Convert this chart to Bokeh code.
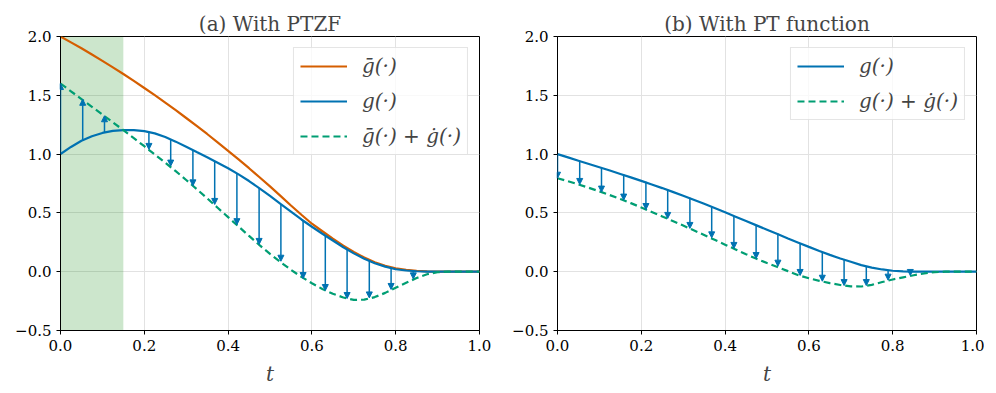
from bokeh.plotting import figure
from bokeh.layouts import row
from bokeh.models import (Range1d, FixedTicker, CustomJSTickFormatter, Arrow,
                          NormalHead, ColumnDataSource, Legend, LegendItem)
from bokeh.embed import file_html
from bokeh.resources import INLINE

# ---------------- data ----------------
t = [0.000, 0.025, 0.050, 0.075, 0.100, 0.125, 0.150, 0.175, 0.200, 0.225,
     0.250, 0.275, 0.300, 0.325, 0.350, 0.375, 0.400, 0.425, 0.450, 0.475,
     0.500, 0.525, 0.550, 0.575, 0.600, 0.625, 0.650, 0.675, 0.700, 0.725,
     0.750, 0.775, 0.800, 0.825, 0.850, 0.875, 0.900, 0.925, 0.950, 0.975, 1.000]

# panel (a) With PTZF
gbar_a = [2.000, 1.950, 1.900, 1.847, 1.793, 1.738, 1.681, 1.622, 1.562, 1.501,
          1.438, 1.373, 1.307, 1.240, 1.171, 1.100, 1.028, 0.955, 0.880, 0.803,
          0.725, 0.645, 0.563, 0.484, 0.408, 0.344, 0.281, 0.221, 0.167, 0.120,
          0.081, 0.050, 0.028, 0.016, 0.008, 0.003, 0.000, 0.000, 0.000, 0.000, 0.000]
g_a = [1.000, 1.061, 1.113, 1.152, 1.180, 1.197, 1.204, 1.204, 1.195, 1.176,
       1.146, 1.106, 1.062, 1.017, 0.973, 0.927, 0.880, 0.828, 0.771, 0.709,
       0.645, 0.577, 0.511, 0.444, 0.382, 0.323, 0.265, 0.208, 0.156, 0.110,
       0.072, 0.043, 0.021, 0.010, 0.004, 0.001, 0.000, 0.000, 0.000, 0.000, 0.000]
gsum_a = [1.600, 1.534, 1.468, 1.402, 1.336, 1.270, 1.204, 1.136, 1.067, 0.997,
          0.927, 0.855, 0.780, 0.703, 0.624, 0.544, 0.464, 0.384, 0.304, 0.226,
          0.151, 0.082, 0.016, -0.044, -0.098, -0.147, -0.188, -0.219, -0.240, -0.238,
          -0.216, -0.180, -0.136, -0.094, -0.054, -0.022, -0.004, 0.000, 0.000, 0.000, 0.000]

# panel (b) With PT function
g_b = [1.000, 0.972, 0.944, 0.916, 0.888, 0.860, 0.831, 0.802, 0.772, 0.742,
       0.711, 0.679, 0.646, 0.612, 0.577, 0.541, 0.505, 0.468, 0.431, 0.394,
       0.357, 0.320, 0.283, 0.247, 0.211, 0.176, 0.143, 0.112, 0.084, 0.056,
       0.035, 0.019, 0.008, 0.003, 0.001, 0.000, 0.000, 0.000, 0.000, 0.000, 0.000]
gsum_b = [0.795, 0.769, 0.742, 0.713, 0.683, 0.651, 0.618, 0.583, 0.546, 0.508,
          0.470, 0.431, 0.392, 0.352, 0.312, 0.271, 0.230, 0.189, 0.148, 0.110,
          0.074, 0.040, 0.005, -0.030, -0.056, -0.078, -0.097, -0.113, -0.125, -0.126,
          -0.112, -0.088, -0.066, -0.048, -0.030, -0.015, -0.004, 0.000, 0.000, 0.000, 0.000]

# arrows (start on g, end on the dashed curve)
t_arrow = [0.000, 0.053, 0.105, 0.158, 0.211, 0.263, 0.316, 0.368, 0.421, 0.474,
           0.526, 0.579, 0.632, 0.684, 0.737, 0.789, 0.842, 0.895, 0.947, 1.000]
arrow_a_from = [1.000, 1.117, 1.183, 1.204, 1.188, 1.125, 1.035, 0.940, 0.839, 0.712,
                0.577, 0.436, 0.308, 0.189, 0.089, 0.027, 0.005, 0.000, 0.000, 0.000]
arrow_a_to = [1.600, 1.466, 1.326, 1.185, 1.040, 0.898, 0.730, 0.572, 0.400, 0.232,
              0.089, -0.058, -0.160, -0.228, -0.223, -0.151, -0.061, -0.005, 0.000, 0.000]
arrow_b_from = [1.000, 0.940, 0.883, 0.827, 0.764, 0.696, 0.628, 0.549, 0.472, 0.396,
                0.325, 0.245, 0.169, 0.100, 0.044, 0.013, 0.001, 0.000, 0.000, 0.000]
arrow_b_to = [0.795, 0.742, 0.677, 0.609, 0.529, 0.453, 0.368, 0.288, 0.198, 0.112,
              0.047, -0.032, -0.081, -0.118, -0.118, -0.072, -0.032, -0.003, 0.000, 0.000]

# shaded interval in (a)
shade_left = [0.0]
shade_right = [0.15]

x_ticks = [0.0, 0.2, 0.4, 0.6, 0.8, 1.0]
y_ticks = [-0.5, 0.0, 0.5, 1.0, 1.5, 2.0]

titles = ["(a) With PTZF", "(b) With PT function"]
labels_a = ["g\u0304(\u00b7)", "g(\u00b7)", "g\u0304(\u00b7) + \u0121(\u00b7)"]
labels_b = ["g(\u00b7)", "g(\u00b7) + \u0121(\u00b7)"]

# ---------------- style ----------------
ORANGE = "#D55E00"
BLUE = "#0072B2"
GREEN = "#009E73"
FONT = "DejaVu Serif"


def make_fig(title, left, right):
    p = figure(frame_width=419, frame_height=294,
               x_range=Range1d(0, 1), y_range=Range1d(-0.5, 2.0),
               output_backend="svg", toolbar_location=None,
               min_border_left=left, min_border_right=right,
               min_border_top=36, min_border_bottom=60)
    p.title.text = title
    p.title.align = "center"
    p.title.text_font = FONT
    p.title.text_font_size = "20px"
    p.title.text_font_style = "normal"
    p.title.standoff = 1
    p.title.offset = 0
    fmt = CustomJSTickFormatter(code="return (tick < 0 ? '\u2212' : '') + Math.abs(tick).toFixed(1);")
    for ax, ticks in ((p.xaxis[0], x_ticks), (p.yaxis[0], y_ticks)):
        ax.ticker = FixedTicker(ticks=ticks)
        ax.formatter = fmt
        ax.minor_tick_line_color = None
        ax.major_tick_in = 0
        ax.major_tick_out = 4
        ax.major_label_text_font = FONT
        ax.major_label_text_font_size = "15px"
        ax.major_label_text_color = "black"
        ax.axis_line_color = "black"
        ax.major_tick_line_color = "black"
        ax.major_label_standoff = 5
    p.xaxis.axis_label = "t"
    p.xaxis.axis_label_text_font = FONT
    p.xaxis.axis_label_text_font_style = "italic"
    p.xaxis.axis_label_text_font_size = "20px"
    p.xaxis.axis_label_standoff = 8
    p.xgrid.ticker = FixedTicker(ticks=x_ticks)
    p.ygrid.ticker = FixedTicker(ticks=y_ticks)
    p.grid.grid_line_color = "#e2e2e2"
    p.grid.grid_line_width = 1
    p.outline_line_color = "black"
    p.outline_line_width = 1
    p.outline_line_alpha = 1
    p.background_fill_color = "white"
    p.border_fill_color = "white"
    return p


def add_arrows(p, y_from, y_to):
    xs, y0, y1 = [], [], []
    for x, a, b in zip(t_arrow, y_from, y_to):
        if abs(b - a) >= 0.025:
            xs.append(x)
            y0.append(a)
            y1.append(b)
    src = ColumnDataSource(dict(x=xs, y0=y0, y1=y1))
    p.add_layout(Arrow(end=NormalHead(size=6, fill_color=BLUE, line_color=BLUE, line_width=1),
                       x_start="x", y_start="y0", x_end="x", y_end="y1", source=src,
                       line_color=BLUE, line_width=1.5))


def style_legend(lg):
    lg.location = "top_right"
    lg.label_text_font = FONT
    lg.label_text_font_size = "20px"
    lg.label_text_font_style = "italic"
    lg.glyph_width = 47
    lg.glyph_height = 20
    lg.label_height = 20
    lg.label_standoff = 15
    lg.spacing = 11
    lg.padding = 6
    lg.margin = 11
    lg.border_line_color = "#cccccc"
    lg.border_line_width = 1
    lg.background_fill_color = "white"
    lg.background_fill_alpha = 0.8


# ---------------- panel (a) ----------------
pa = make_fig(titles[0], 60, 24)
pa.quad(left=shade_left, right=shade_right, bottom=[-0.5], top=[2.0],
        fill_color="green", fill_alpha=0.2, line_color=None)
ra1 = pa.line(t, gbar_a, line_color=ORANGE, line_width=2.2)
ra2 = pa.line(t, g_a, line_color=BLUE, line_width=2.2)
ra3 = pa.line(t, gsum_a, line_color=GREEN, line_width=2.2, line_dash="7 4")
add_arrows(pa, arrow_a_from, arrow_a_to)
lga = Legend(items=[LegendItem(label=labels_a[0], renderers=[ra1]),
                    LegendItem(label=labels_a[1], renderers=[ra2]),
                    LegendItem(label=labels_a[2], renderers=[ra3])])
style_legend(lga)
pa.add_layout(lga)

# ---------------- panel (b) ----------------
pb = make_fig(titles[1], 54, 8)
rb1 = pb.line(t, g_b, line_color=BLUE, line_width=2.2)
rb2 = pb.line(t, gsum_b, line_color=GREEN, line_width=2.2, line_dash="7 4")
add_arrows(pb, arrow_b_from, arrow_b_to)
lgb = Legend(items=[LegendItem(label=labels_b[0], renderers=[rb1]),
                    LegendItem(label=labels_b[1], renderers=[rb2])])
style_legend(lgb)
pb.add_layout(lgb)

layout = row(pa, pb)
open("out.html", "w").write(file_html(layout, INLINE))
